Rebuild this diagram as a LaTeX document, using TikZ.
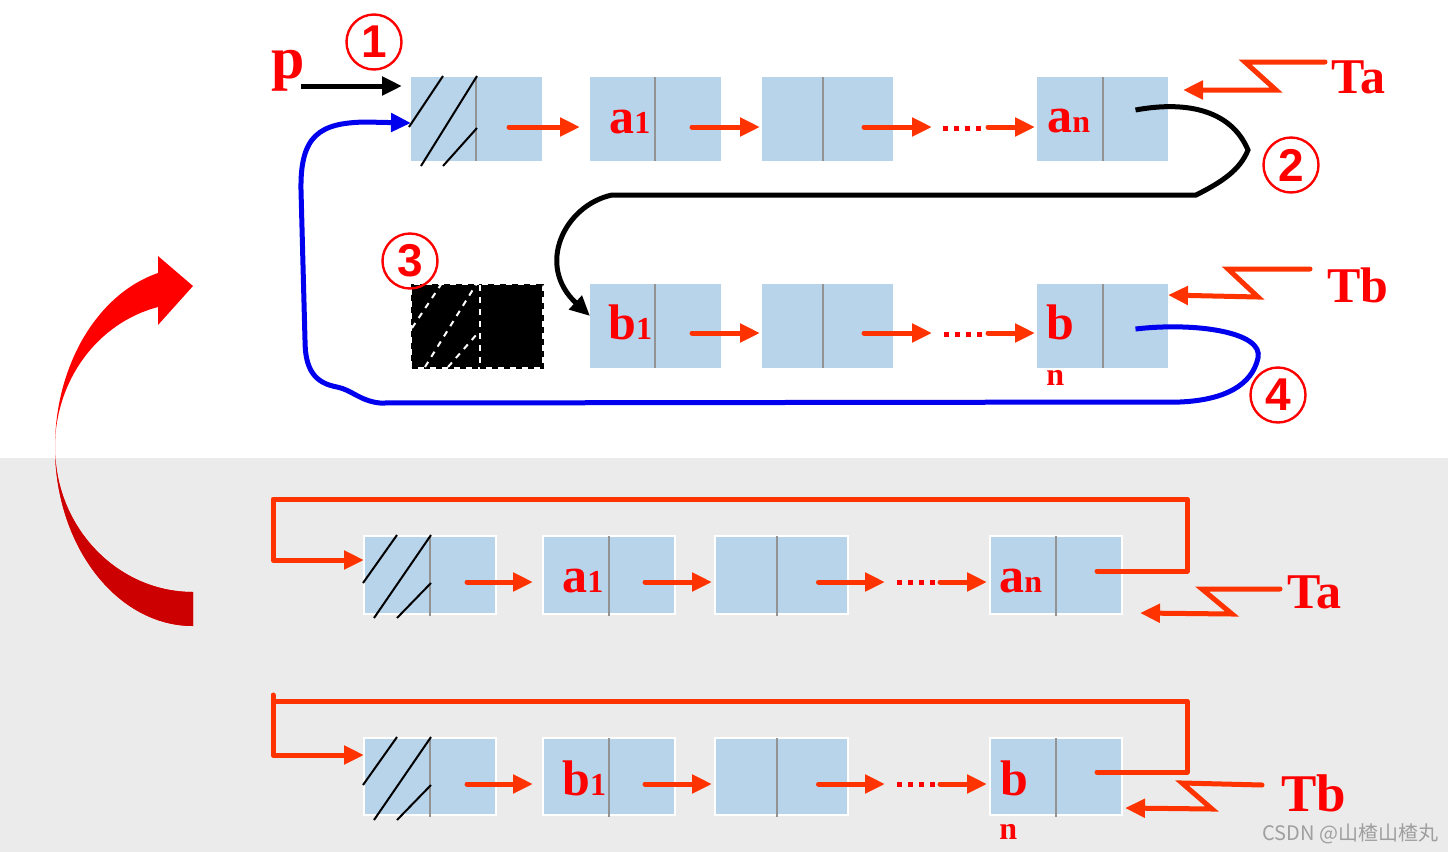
\documentclass[tikz,border=0pt]{standalone}
\usepackage{fontspec}
\setmainfont{Liberation Serif}
\setsansfont{Liberation Sans}
\newfontfamily\cjkfont{Noto Sans CJK SC}
\usetikzlibrary{arrows.meta,fit}
\definecolor{cellblue}{HTML}{B8D4EB}
\definecolor{ptrred}{HTML}{FF3300}
\definecolor{txtred}{HTML}{FF0000}
\definecolor{bggray}{HTML}{EBEBEB}
\definecolor{darkred}{HTML}{CC0000}
\definecolor{lineblue}{HTML}{0000EE}
\newcommand{\smallidx}[1]{{\fontsize{16}{16}\selectfont #1}}
\newcommand{\bigarrowpath}{(158,273) .. controls (97,294) and (55,366) .. (55,447) .. controls (55,546) and (117,626) .. (193,626) -- (193,592) .. controls (117,592) and (55,527) .. (55,447) .. controls (55,381) and (97,323) .. (158,307) -- (158,325) -- (193,286) -- (158,256) -- cycle}
\tikzset{
  cellpart/.style={fill=cellblue, inner sep=0pt, outer sep=0pt, draw=none},
  cellwb/.style={fill=cellblue, inner sep=0pt, outer sep=0pt, draw=white, line width=1pt},
  divider/.style={draw=gray!85, line width=1pt},
  hatch/.style={draw=black, line width=1pt},
  tip/.style={-{Triangle[length=10pt,width=9pt]}},
  ptr/.style={draw=ptrred, line width=2.5pt, line cap=round, tip},
  ptrloop/.style={draw=ptrred, line width=2.5pt, line cap=round, line join=round, tip},
  zig/.style={draw=ptrred, line width=2.5pt, line cap=round, tip},
  blk/.style={draw=black, line width=2.5pt, tip},
  blu/.style={draw=lineblue, line width=2.5pt, line join=round, tip},
  dotline/.style={draw=txtred, line width=2.5pt, dash pattern=on 2.5pt off 3pt},
  lbl/.style={text=txtred, font=\bfseries\fontsize{25}{25}\selectfont, inner sep=0pt, anchor=base west},
  lblsm/.style={text=txtred, font=\bfseries\fontsize{16}{16}\selectfont, inner sep=0pt, anchor=base west},
  circnum/.style={circle, draw=txtred, line width=1.2pt, text=txtred, minimum size=27.5pt, inner sep=0pt, font=\sffamily\bfseries\fontsize{23}{23}\selectfont}
}
\begin{document}
\begin{tikzpicture}[x=0.5pt, y=-0.5pt]
\fill[white] (0,0) rectangle (1448,852);
\useasboundingbox (0,0) rectangle (1448,852);
\fill[bggray] (0,458) rectangle (1448,852);

% big curved arrow
\fill[txtred] \bigarrowpath;
\begin{scope}
\clip (0,458) rectangle (1448,852);
\fill[darkred] \bigarrowpath;
\end{scope}

% ---------- top row ----------
\node[cellpart, fit={(411,77) (476,161)}] (A0d) {};
\node[cellpart, fit={(476,77) (542,161)}] (A0p) {};
\node[cellpart, fit={(590,77) (655,161)}] (A1d) {};
\node[cellpart, fit={(655,77) (721,161)}] (A1p) {};
\node[cellpart, fit={(762,77) (823,161)}] (A2d) {};
\node[cellpart, fit={(823,77) (893,161)}] (A2p) {};
\node[cellpart, fit={(1037,77) (1103,161)}] (A3d) {};
\node[cellpart, fit={(1103,77) (1168,161)}] (A3p) {};
\foreach \n in {A0d,A1d,A2d,A3d} \draw[divider] (\n.north east) -- (\n.south east);
\draw[hatch] (409,127) -- (443,76);
\draw[hatch] (421,166) -- (477,76);
\draw[hatch] (443,166) -- (477,128);
\node[lbl] (la1) at (609,133) {a\smallidx{1}};
\node[lbl] (lan) at (1047,132) {a\smallidx{n}};
\coordinate (Ad1) at (932,127);
\coordinate (Ad2) at (988,127);
\draw[ptr] ([yshift=-4pt]A0p.center) -- ([xshift=-5pt,yshift=-4pt]A1d.west);
\draw[ptr] ([xshift=2pt,yshift=-4pt]A1p.center) -- ([xshift=-1pt,yshift=-4pt]A2d.west);
\draw[ptr] ([xshift=3pt,yshift=-4pt]A2p.center) -- (Ad1);
\draw[dotline] (943,128) -- (982,128);
\draw[ptr] (Ad2) -- ([xshift=-1pt,yshift=-4pt]A3d.west);

% p pointer
\node[lbl, font=\bfseries\fontsize{30}{30}\selectfont] (lp) at (271,78) {p};
\coordinate (pstart) at (301,86);
\draw[blk] (pstart) -- ([xshift=-4.5pt,yshift=-4.5pt]A0d.north west);
\node[circnum] (c1) at (374,42) {1};

% Ta
\node[lbl] (Ta1) at (1331,93) {Ta};
\coordinate (za1) at (1325,62);
\draw[zig] (za1) -- (1245,62) -- (1276,90) -- ([xshift=7.5pt,yshift=14.5pt]A3p.east);

% ---------- second row ----------
\node[fill=black, draw=black, dashed, line width=1.5pt, inner sep=0pt, outer sep=0pt, fit={(412,285) (480,367)}] (Bxd) {};
\node[fill=black, draw=black, dashed, line width=1.5pt, inner sep=0pt, outer sep=0pt, fit={(480,285) (542,367)}] (Bxp) {};
\draw[white, dashed, line width=1pt] (480,285) -- (480,367);
\draw[white, dashed, line width=1pt] (412,328) -- (442,283);
\draw[white, dashed, line width=1pt] (425,367) -- (477,283);
\draw[white, dashed, line width=1pt] (448,367) -- (477,334);
\node[circnum] (c3) at (410,261) {3};

\node[cellpart, fit={(590,284) (655,368)}] (B1d) {};
\node[cellpart, fit={(655,284) (721,368)}] (B1p) {};
\node[cellpart, fit={(762,284) (823,368)}] (B2d) {};
\node[cellpart, fit={(823,284) (893,368)}] (B2p) {};
\node[cellpart, fit={(1037,284) (1103,368)}] (B3d) {};
\node[cellpart, fit={(1103,284) (1168,368)}] (B3p) {};
\foreach \n in {B1d,B2d,B3d} \draw[divider] (\n.north east) -- (\n.south east);
\node[lbl] (lb1) at (608,339) {b\smallidx{1}};
\node[lbl] (lbn) at (1046,339) {b};
\node[lblsm] (lbnn) at (1046,385) {n};
\coordinate (Bd1) at (932,333);
\coordinate (Bd2) at (988,333);
\draw[ptr] ([xshift=2pt,yshift=-3.5pt]B1p.center) -- ([xshift=-1pt,yshift=-3.5pt]B2d.west);
\draw[ptr] ([xshift=3pt,yshift=-3.5pt]B2p.center) -- (Bd1);
\draw[dotline] (944,334) -- (982,334);
\draw[ptr] (Bd2) -- ([xshift=-1pt,yshift=-3.5pt]B3d.west);

\node[lbl] (Tb1) at (1327,302) {Tb};
\coordinate (zb1) at (1310,269);
\draw[zig] (zb1) -- (1228,269) -- (1258,297) -- ([yshift=15.5pt]B3p.east);

% black relink (2)
\draw[blk] ([yshift=4.5pt]A3p.center) .. controls (1190,100) and (1232,112) .. (1248,150)
  .. controls (1240,170) and (1222,182) .. (1196,195) -- (612,195)
  .. controls (565,205) and (535,265) .. ([yshift=5pt]B1d.west);
\node[circnum] (c2) at (1291,165) {2};

% blue relink (4)
\draw[blu] ([yshift=-1.5pt]B3p.center) .. controls (1195,322) and (1264,332) .. (1258,358)
  .. controls (1252,385) and (1225,400) .. (1180,402) -- (380,403)
  .. controls (360,401) and (352,390) .. (337,387)
  .. controls (315,383) and (305,370) .. (305,340) -- (301,190)
  .. controls (300,135) and (320,123) .. (365,122) -- ([yshift=-2pt]A0d.west);
\node[circnum] (c4) at (1278,395) {4};

% ---------- third row ----------
\node[cellwb, fit={(364,536) (430,614)}] (C0d) {};
\node[cellwb, fit={(430,536) (496,614)}] (C0p) {};
\node[cellwb, fit={(543,536) (609,614)}] (C1d) {};
\node[cellwb, fit={(609,536) (675,614)}] (C1p) {};
\node[cellwb, fit={(715,536) (777,614)}] (C2d) {};
\node[cellwb, fit={(777,536) (848,614)}] (C2p) {};
\node[cellwb, fit={(990,536) (1056,614)}] (C3d) {};
\node[cellwb, fit={(1056,536) (1122,614)}] (C3p) {};
\foreach \n in {C0d,C1d,C2d,C3d} \draw[divider] (\n.north east) -- ([yshift=-1pt]\n.south east);
\draw[hatch] (363,583) -- (397,535);
\draw[hatch] (374,618) -- (431,535);
\draw[hatch] (397,618) -- (431,583);
\node[lbl] (lc1) at (562,592) {a\smallidx{1}};
\node[lbl] (lcn) at (999,592) {a\smallidx{n}};
\coordinate (Cd1) at (885,582);
\coordinate (Cd2) at (940,582);
\draw[ptr] ([xshift=2pt,yshift=-3.5pt]C0p.center) -- ([xshift=-5pt,yshift=-3.5pt]C1d.west);
\draw[ptr] ([xshift=1.5pt,yshift=-3.5pt]C1p.center) -- ([xshift=-1.5pt,yshift=-3.5pt]C2d.west);
\draw[ptr] ([xshift=3pt,yshift=-3.5pt]C2p.center) -- (Cd1);
\draw[dotline] (897,582) -- (935,582);
\draw[ptr] (Cd2) -- ([xshift=-1.5pt,yshift=-3.5pt]C3d.west);
\draw[ptrloop] ([xshift=4pt,yshift=2pt]C3p.center) -- (1187,571) -- (1187,499) -- (273,499) -- (273,560) -- ([yshift=7.5pt]C0d.west);
\node[lbl] (Ta2) at (1287,608) {Ta};
\coordinate (za2) at (1280,589);
\draw[zig] (za2) -- (1202,589) -- (1232,614) -- ([xshift=9pt,yshift=-19pt]C3p.east);

% ---------- fourth row ----------
\node[cellwb, fit={(364,738) (430,815)}] (D0d) {};
\node[cellwb, fit={(430,738) (496,815)}] (D0p) {};
\node[cellwb, fit={(543,738) (609,815)}] (D1d) {};
\node[cellwb, fit={(609,738) (675,815)}] (D1p) {};
\node[cellwb, fit={(715,738) (777,815)}] (D2d) {};
\node[cellwb, fit={(777,738) (848,815)}] (D2p) {};
\node[cellwb, fit={(990,738) (1056,815)}] (D3d) {};
\node[cellwb, fit={(1056,738) (1122,815)}] (D3p) {};
\foreach \n in {D0d,D1d,D2d,D3d} \draw[divider] (\n.north east) -- ([yshift=-1pt]\n.south east);
\draw[hatch] (363,785) -- (397,737);
\draw[hatch] (374,820) -- (431,737);
\draw[hatch] (397,820) -- (431,785);
\node[lbl] (ld1) at (562,795) {b\smallidx{1}};
\node[lbl] (ldn) at (1000,795) {b};
\node[lblsm] (ldnn) at (999,839) {n};
\coordinate (Dd1) at (885,784);
\coordinate (Dd2) at (940,784);
\draw[ptr] ([xshift=2pt,yshift=-3.75pt]D0p.center) -- ([xshift=-5pt,yshift=-3.75pt]D1d.west);
\draw[ptr] ([xshift=1.5pt,yshift=-3.75pt]D1p.center) -- ([xshift=-1.5pt,yshift=-3.75pt]D2d.west);
\draw[ptr] ([xshift=3pt,yshift=-3.75pt]D2p.center) -- (Dd1);
\draw[dotline] (897,784) -- (935,784);
\draw[ptr] (Dd2) -- ([xshift=-1.5pt,yshift=-3.75pt]D3d.west);
\draw[ptrloop] ([xshift=4pt,yshift=2.25pt]D3p.center) -- (1187,772) -- (1187,701) -- (273,701) -- (273,695) -- (273,755) -- ([yshift=10.75pt]D0d.west);
\node[lbl, font=\bfseries\fontsize{26.5}{26.5}\selectfont] (Tb2) at (1281,811) {Tb};
\coordinate (zb2) at (1262,785);
\draw[zig] (zb2) -- (1182,783) -- (1212,809) -- ([xshift=1.5pt,yshift=-15.75pt]D3p.east);

% watermark
\node[font=\cjkfont\fontsize{10}{10}\selectfont, text=gray!75, anchor=base west, inner sep=0pt] (wm) at (1262,840) {CSDN @山楂山楂丸};
\end{tikzpicture}
\end{document}
